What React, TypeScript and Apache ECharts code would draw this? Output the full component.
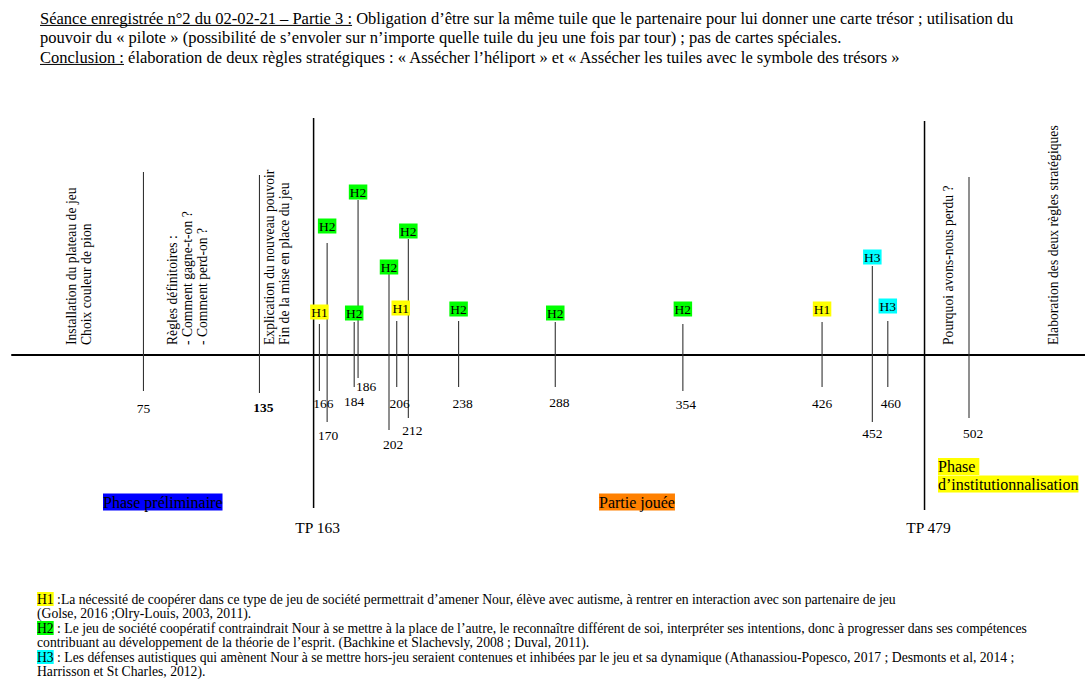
import React, { useEffect, useRef } from 'react';
import * as echarts from 'echarts';

const FONT = '"Liberation Serif", "Times New Roman", serif';
const FAMILY = 'Liberation Serif';

// ---------- texts ----------
const headerTitle = 'Séance enregistrée n°2 du 02-02-21 – Partie 3 :';
const headerLine1 = ' Obligation d’être sur la même tuile que le partenaire pour lui donner une carte trésor ; utilisation du';
const headerLine2 = 'pouvoir du « pilote » (possibilité de s’envoler sur n’importe quelle tuile du jeu une fois par tour) ; pas de cartes spéciales.';
const conclusionTitle = 'Conclusion :';
const conclusionText = ' élaboration de deux règles stratégiques : « Assécher l’héliport » et « Assécher les tuiles avec le symbole des trésors »';

// ---------- timeline data ----------
const eventValues = [75, 135, 166, 170, 184, 186, 202, 206, 212, 238, 288, 354, 426, 452, 460, 502];
const eventTags = ['', '', 'H1', 'H2', 'H2', 'H2', 'H2', 'H1', 'H2', 'H2', 'H2', 'H2', 'H1', 'H3', 'H3', ''];
const boldValues = [135];

const turningPoints = [163, 479];
const turningPointLabels = ['TP 163', 'TP 479'];

const phaseNames = ['Phase préliminaire', 'Partie jouée', 'Phase', 'd’institutionnalisation'];

const segmentNotes = [
  ['Installation du plateau de jeu', 'Choix couleur de pion'],
  ['Règles définitoires :', '- Comment gagne-t-on ?', '- Comment perd-on ?'],
  ['Explication du nouveau pouvoir', 'Fin de la mise en place du jeu'],
  ['Pourquoi avons-nous perdu ?'],
  ['Elaboration des deux règles stratégiques'],
];

const hypothesisTags = ['H1', 'H2', 'H3'];
const hypothesisLines = [
  [' :La nécessité de coopérer dans ce type de jeu de société permettrait d’amener Nour, élève avec autisme, à rentrer en interaction avec son partenaire de jeu', '(Golse, 2016 ;Olry-Louis, 2003, 2011).'],
  [' : Le jeu de société coopératif contraindrait Nour à se mettre à la place de l’autre, le reconnaître différent de soi, interpréter ses intentions, donc à progresser dans ses compétences', 'contribuant au développement de la théorie de l’esprit. (Bachkine et Slachevsly, 2008 ; Duval, 2011).'],
  [' : Les défenses autistiques qui amènent Nour à se mettre hors-jeu seraient contenues et inhibées par le jeu et sa dynamique (Athanassiou-Popesco, 2017 ; Desmonts et al, 2014 ;', 'Harrisson et St Charles, 2012).'],
];

// ---------- layout / styles (not data) ----------
const TAG_COLORS: Record<string, string> = { H1: '#ffff00', H2: '#00ff00', H3: '#00ffff' };
const stemUp = [183, 180, 31, 112, 33, 155, 81, 34, 116, 34, 33, 31, 33, 89, 34, 178];
const stemDown = [36, 38, 36, 67, 32, 23, 75, 32, 63, 32, 32, 36, 32, 67, 32, 63];
const labelDepth = [53, 52, 48, 80, 46, 31, 89, 48, 75, 48, 47, 49, 48, 78, 48, 78];
const tagLift = [0, 0, 43, 129, 42, 163, 88, 47, 124, 46, 42, 46, 46, 98, 49, 0];
const labelShift = [0, 4, 4, 1, 0, 8, 4, 3, 4, 4, 4, 3, 0, 0, 3, 4];
const tagShift = [0, 0, 0, 0, 0, 0, 0, 4, 0, 0, 0, 0, 0, 0, 0, 0];
const tpUp = [237, 234];
const tpDown = [153, 155];
const tpLabelDepth = [172, 172];

export default function App() {
  const ref = useRef<HTMLDivElement>(null);

  useEffect(() => {
    if (!ref.current) return;
    const chart = echarts.init(ref.current, null, { renderer: 'svg' });

    const ctx = document.createElement('canvas').getContext('2d') as CanvasRenderingContext2D;
    const measure = (t: string, size: number, weight = 'normal') => {
      ctx.font = `${weight} ${size}px ${FONT}`;
      return ctx.measureText(t).width;
    };
    const headerSize = (100 * 974) / measure(headerTitle + headerLine1, 100);
    const footerSize = (100 * 859) / measure(hypothesisTags[0] + hypothesisLines[0][0], 100);
    const noteSize = (100 * 220) / measure(segmentNotes[4][0], 100);
    const hFont = `${headerSize}px ${FONT}`;
    const fFont = `${footerSize}px ${FONT}`;
    const nFont = `${noteSize}px ${FONT}`;
    const phaseFont = `16px ${FONT}`;

    const graphics: any[] = [];
    // header
    const headerX = 40;
    const headerY = [18, 37, 57];
    graphics.push({ type: 'text', x: headerX, y: headerY[0], style: { text: headerTitle + headerLine1, font: hFont, fill: '#000', align: 'left', verticalAlign: 'middle' } });
    graphics.push({ type: 'text', x: headerX, y: headerY[1], style: { text: headerLine2, font: hFont, fill: '#000', align: 'left', verticalAlign: 'middle' } });
    graphics.push({ type: 'text', x: headerX, y: headerY[2], style: { text: conclusionTitle + conclusionText, font: hFont, fill: '#000', align: 'left', verticalAlign: 'middle' } });
    const u1 = measure(headerTitle, headerSize);
    const u3 = measure(conclusionTitle, headerSize);
    const uOff = headerSize * 0.45;
    graphics.push({ type: 'line', shape: { x1: headerX, y1: headerY[0] + uOff, x2: headerX + u1, y2: headerY[0] + uOff }, style: { stroke: '#000', lineWidth: 1 } });
    graphics.push({ type: 'line', shape: { x1: headerX, y1: headerY[2] + uOff, x2: headerX + u3, y2: headerY[2] + uOff }, style: { stroke: '#000', lineWidth: 1 } });

    // vertical notes
    const noteLeft = [64, 165, 262, 941, 1046];
    segmentNotes.forEach((lines, i) => {
      graphics.push({
        type: 'text', x: noteLeft[i], y: 345, rotation: Math.PI / 2,
        style: { text: lines.join('\n'), font: nFont, fill: '#000', align: 'left', verticalAlign: 'top', lineHeight: 15 },
      });
    });

    // phase labels
    graphics.push({ type: 'text', x: 103, y: 502, style: { text: phaseNames[0], font: phaseFont, fill: '#000', align: 'left', verticalAlign: 'middle', backgroundColor: '#0000ff', padding: [1, 0, 0, 0] } });
    graphics.push({ type: 'text', x: 599, y: 502, style: { text: phaseNames[1], font: phaseFont, fill: '#000', align: 'left', verticalAlign: 'middle', backgroundColor: '#ff8000', padding: [1, 0, 0, 0] } });
    graphics.push({ type: 'text', x: 938, y: 466.5, style: { text: phaseNames[2] + ' ', font: phaseFont, fill: '#000', align: 'left', verticalAlign: 'middle', backgroundColor: '#ffff00', padding: [1, 0, 0, 0] } });
    graphics.push({ type: 'text', x: 938, y: 484, style: { text: phaseNames[3], font: phaseFont, fill: '#000', align: 'left', verticalAlign: 'middle', backgroundColor: '#ffff00', padding: [1, 0, 0, 0] } });

    // footer
    const footY = [599, 613.5, 628, 642.5, 657, 671.5];
    hypothesisTags.forEach((tag, i) => {
      graphics.push({
        type: 'text', x: 37, y: footY[i * 2],
        style: {
          text: `{t|${tag}}${hypothesisLines[i][0]}`, font: fFont, fill: '#000', align: 'left', verticalAlign: 'middle',
          rich: { t: { backgroundColor: TAG_COLORS[tag] } },
        },
      });
      graphics.push({
        type: 'text', x: 37, y: footY[i * 2 + 1],
        style: { text: hypothesisLines[i][1], font: fFont, fill: '#000', align: 'left', verticalAlign: 'middle' },
      });
    });

    const eventData = eventValues.map((v, i) => [v, stemUp[i], stemDown[i], labelDepth[i], tagLift[i], labelShift[i], tagShift[i]]);
    const tpData = turningPoints.map((v, i) => [v, tpUp[i], tpDown[i], tpLabelDepth[i]]);

    const option: any = {
      animation: false,
      grid: { left: 12, right: 0, top: 0, bottom: 0 },
      xAxis: {
        type: 'value', min: 7, max: 562,
        axisLine: { show: true, onZero: true, lineStyle: { color: '#000', width: 2 } },
        axisTick: { show: false }, axisLabel: { show: false }, splitLine: { show: false },
      },
      yAxis: { type: 'value', min: -324, max: 355, show: false, splitLine: { show: false } },
      series: [
        {
          type: 'custom', z: 2, data: tpData,
          renderItem: (params: any, api: any) => {
            const v = api.value(0);
            const top = api.coord([v, api.value(1)]);
            const bot = api.coord([v, -api.value(2)]);
            const lab = api.coord([v, -api.value(3)]);
            return {
              type: 'group',
              children: [
                { type: 'line', shape: { x1: top[0], y1: top[1], x2: bot[0], y2: bot[1] }, style: { stroke: '#000', lineWidth: 1.5 } },
                {
                  type: 'text', x: lab[0] + 4, y: lab[1],
                  style: { text: turningPointLabels[params.dataIndex], fontSize: 15.5, fontFamily: FAMILY, fontWeight: 'normal', fill: '#000', align: 'center', verticalAlign: 'middle' },
                },
              ],
            };
          },
        },
        {
          type: 'custom', z: 3, data: eventData,
          renderItem: (params: any, api: any) => {
            const i = params.dataIndex;
            const v = api.value(0);
            const top = api.coord([v, api.value(1)]);
            const bot = api.coord([v, -api.value(2)]);
            const lab = api.coord([v, -api.value(3)]);
            const bold = boldValues.indexOf(v) >= 0;
            const children: any[] = [
              { type: 'line', z2: 1, shape: { x1: top[0], y1: top[1], x2: bot[0], y2: bot[1] }, style: { stroke: '#333', lineWidth: 1.1 } },
              {
                type: 'text', z2: 5, x: lab[0] + api.value(5), y: lab[1],
                style: { text: String(v), fontSize: 13.5, fontFamily: FAMILY, fontWeight: bold ? 'bold' : 'normal', fill: '#000', align: 'center', verticalAlign: 'middle' },
              },
            ];
            const tag = eventTags[i];
            if (tag) {
              const tp = api.coord([v, api.value(4)]);
              children.push({
                type: 'text', z2: 10, x: tp[0] + api.value(6), y: tp[1],
                style: {
                  text: tag, fontSize: 13.5, fontFamily: FAMILY, fontWeight: 'normal', fill: '#000', align: 'center', verticalAlign: 'middle',
                  backgroundColor: TAG_COLORS[tag], padding: [1, 1, 0, 1],
                },
              });
            }
            return { type: 'group', children };
          },
        },
      ],
      graphic: { elements: graphics },
    };

    chart.setOption(option);
    return () => chart.dispose();
  }, []);

  return <div ref={ref} style={{ position: 'absolute', left: 0, top: 0, width: 1085, height: 679, background: '#fff' }} />;
}
